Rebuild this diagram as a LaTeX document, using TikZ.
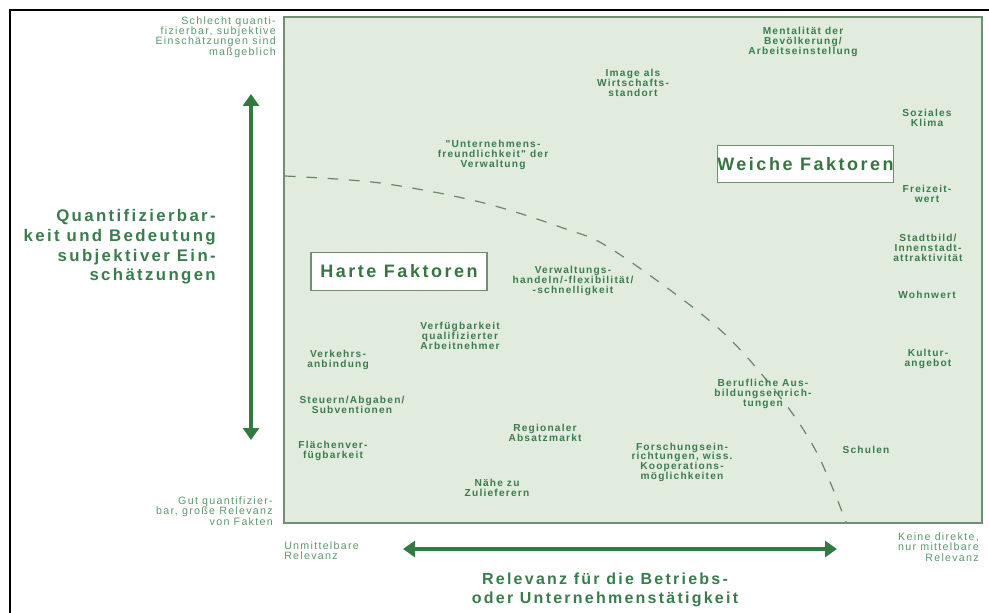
\documentclass[tikz,border=0pt]{standalone}
\usepackage{fontspec}
\setmainfont{Liberation Sans}
\newfontfamily\facfont[LetterSpace=12]{Liberation Sans}
\newfontfamily\axfont[LetterSpace=14]{Liberation Sans}
\usetikzlibrary{arrows.meta}
\definecolor{cText} {RGB}{ 58,124, 78}
\definecolor{cLight}{RGB}{ 92,152,108}
\definecolor{cArrow}{RGB}{ 50,122, 66}
\definecolor{cBox}  {RGB}{ 56,116, 66}
\definecolor{cPlot} {RGB}{226,236,222}
\definecolor{cEdge} {RGB}{112,142,112}
\definecolor{cDash} {RGB}{104,134,108}
\tikzset{
  fac/.style     = {font=\facfont\bfseries\fontsize{7.6}{7.3}\selectfont,
                    text=cText, align=center, inner sep=0pt},
  ecke/.style    = {font=\facfont\fontsize{8}{7.7}\selectfont,
                    text=cLight, inner sep=0pt},
  achse/.style   = {font=\axfont\bfseries\fontsize{12}{14.8}\selectfont,
                    text=cText, inner sep=0pt},
  kasten/.style  = {draw=cEdge, fill=white, line width=0.8pt, text=cBox,
                    font=\axfont\bfseries\fontsize{13.5}{16}\selectfont,
                    minimum width=132pt, minimum height=28pt, inner sep=0pt},
  pfeil/.style   = {{Triangle[length=9pt,width=12pt]}-{Triangle[length=9pt,width=12pt]},
                    cArrow, line width=3.6pt},
  grenze/.style  = {cDash, line width=0.9pt, dash pattern=on 8pt off 8pt},
  feld/.style    = {fill=cPlot, draw=cEdge, line width=0.8pt},
}
\begin{document}
\begin{tikzpicture}[x=0.75pt, y=-0.75pt]
  \useasboundingbox (0,0) rectangle (989,613);

  %% ---------------- frame and field -----------------------------------
  \draw[black, line width=1.5pt] (10,613) -- (10,10) -- (989,10);
  \draw[feld] (284,17) rectangle (982,523);
  \draw[grenze] plot[smooth, tension=0.55] coordinates
    {(285,176) (380,183) (480,202) (563,228) (613,250) (717,327)
     (780,397) (817,453) (846,522)};

  %% ---------------- axes ----------------------------------------------
  \coordinate (yoben)  at (251,94);
  \coordinate (yunten) at (251,440);
  \coordinate (xlinks) at (403,549);
  \coordinate (xrechts) at (837,549);
  \draw[pfeil] (yunten) -- (yoben);
  \draw[pfeil] (xlinks) -- (xrechts);

  \node[achse, align=right, anchor=east, font=\axfont\bfseries\fontsize{12.6}{14.8}\selectfont]
    (ylab) at (216,247)
    {Quantifizierbar-\\keit und Bedeutung\\subjektiver Ein-\\schätzungen};
  \node[achse, align=center] (xlab) at (605,590)
    {Relevanz für die Betriebs-\\oder Unternehmenstätigkeit};

  \node[ecke, align=right, anchor=east] (ytop) at (276,37)
    {Schlecht quanti-\\fizierbar, subjektive\\Einschätzungen sind\\maßgeblich};
  \node[ecke, align=right, anchor=east] (ybot) at (273,511)
    {Gut quantifizier-\\bar, große Relevanz\\von Fakten};
  \node[ecke, align=left, anchor=west] (xleft) at (284,551)
    {Unmittelbare\\Relevanz};
  \node[ecke, align=right, anchor=east] (xright) at (979,547)
    {Keine direkte,\\nur mittelbare\\Relevanz};

  %% ---------------- the two groups ------------------------------------
  \node[kasten] (hart)   at (399,271.5) {Harte Faktoren};
  \node[kasten] (weich)  at (805.5,164) {Weiche Faktoren};

  %% ---------------- factors -------------------------------------------
  \node[fac] (mental)  at (803,42)  {Mentalität der\\Bevölkerung/\\Arbeitseinstellung};
  \node[fac] (image)   at (633,83)  {Image als\\Wirtschafts-\\standort};
  \node[fac] (freund)  at (493,155) {"Unternehmens-\\freundlichkeit" der\\Verwaltung};
  \node[fac] (sozial)  at (927,118) {Soziales\\Klima};
  \node[fac] (freiz)   at (927,194) {Freizeit-\\wert};
  \node[fac] (stadt)   at (928,248) {Stadtbild/\\Innenstadt-\\attraktivität};
  \node[fac] (wohn)    at (927,295) {Wohnwert};
  \node[fac] (kultur)  at (928,359) {Kultur-\\angebot};
  \node[fac] (verw)    at (573,281) {Verwaltungs-\\handeln/-flexibilität/\\-schnelligkeit};
  \node[fac] (arbeit)  at (460,336) {Verfügbarkeit\\qualifizierter\\Arbeitnehmer};
  \node[fac] (verkehr) at (338,360) {Verkehrs-\\anbindung};
  \node[fac] (steuer)  at (352,405) {Steuern/Abgaben/\\Subventionen};
  \node[fac] (flaeche) at (333,451) {Flächenver-\\fügbarkeit};
  \node[fac] (absatz)  at (545,433) {Regionaler\\Absatzmarkt};
  \node[fac] (zuliefer) at (497,488) {Nähe zu\\Zulieferern};
  \node[fac] (forsch)  at (682,462) {Forschungsein-\\richtungen, wiss.\\Kooperations-\\möglichkeiten};
  \node[fac] (ausbild) at (763,394) {Berufliche Aus-\\bildungseinrich-\\tungen};
  \node[fac] (schule)  at (866,450) {Schulen};
\end{tikzpicture}
\end{document}
